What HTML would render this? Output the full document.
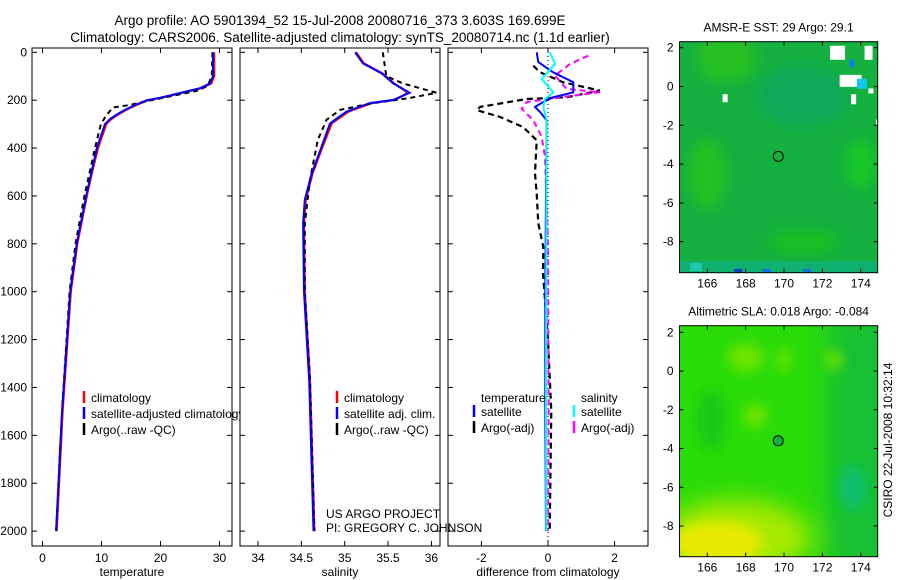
<!DOCTYPE html>
<html><head><meta charset="utf-8"><style>
html,body{margin:0;padding:0;background:#fff}
svg{display:block;font-family:"Liberation Sans",sans-serif}
</style></head><body>
<svg id="c" width="900" height="580" viewBox="0 0 900 580"></svg>
<script>
// ---- data ----
const depthTicks=[0,200,400,600,800,1000,1200,1400,1600,1800,2000];
const tempTicks=[0,10,20,30];
const salTicks=[34,34.5,35,35.5,36];
const salTickLabels=["34","34.5","35","35.5","36"];
const diffTicks=[-2,0,2];
const tClimDepth=[0,100,130,150,170,190,200,220,240,260,280,300,350,400,500,600,800,1000,1500,2000];
const tClimVal=[29.1,29.1,28.6,26.9,23.5,20.1,17.9,15.9,14.2,12.8,11.6,10.8,10.1,9.4,8.4,7.5,5.9,4.8,3.4,2.4];
const tSatVal=[28.9,28.9,28.4,26.7,23.3,19.9,17.7,15.7,14.0,12.6,11.4,10.6,9.9,9.2,8.3,7.4,5.8,4.7,3.3,2.3];
const tArgoDepth=[0,100,140,160,190,210,220,230,260,300,400,500,600,800,1000,1500,2000];
const tArgoVal=[28.8,28.7,28.0,26.3,20.5,16.5,14.8,12.0,10.9,9.9,8.9,8.0,7.1,5.6,4.6,3.3,2.3];
const sDepth=[0,46,89,130,169,199,212,248,297,408,505,616,714,1000,1370,2000];
const sClimVal=[35.13,35.22,35.44,35.57,35.73,35.58,35.31,35.04,34.85,34.73,34.63,34.55,34.53,34.54,34.60,34.65];
const sSatVal=[35.12,35.21,35.43,35.56,35.75,35.56,35.29,35.02,34.83,34.72,34.62,34.54,34.52,34.53,34.59,34.64];
const sArgoDepth=[0,100,130,169,191,212,240,282,366,532,715,1000,1370,2000];
const sArgoVal=[35.44,35.48,35.67,36.06,35.75,35.33,34.95,34.79,34.69,34.60,34.54,34.54,34.60,34.65];
const dTSatDepth=[0,41,83,125,167,188,208,228,249,284,600,1000,1500,2000];
const dTSatVal=[-0.34,-0.29,0.15,0.76,0.76,0.15,-0.15,-0.39,-0.24,-0.04,-0.06,-0.08,-0.08,-0.06];
const dTArgoDepth=[56,83,125,160,188,195,228,242,270,312,367,506,590,715,813,924,1200,1500,2000];
const dTArgoVal=[-0.44,-0.24,0.45,1.56,0.56,-0.64,-2.04,-2.14,-1.44,-0.75,-0.34,-0.39,-0.34,-0.29,-0.14,-0.15,0.0,0.1,0.05];
const dSSatDepth=[0,49,111,167,195,229,284,800,1500,2000];
const dSSatVal=[0.06,0.21,-0.19,0.16,-0.09,-0.14,-0.04,-0.05,-0.06,-0.05];
const dSArgoDepth=[14,49,97,153,167,188,208,236,284,353,436,800,1500,2000];
const dSArgoVal=[1.21,0.66,0.21,0.56,1.56,0.36,-0.64,-0.79,-0.44,-0.19,-0.09,0.0,0.02,0.0];
const lonTicks=[166,168,170,172,174];
const latTicks=[2,0,-2,-4,-6,-8];
const argoLon=169.7, argoLat=-3.6;

const NS="http://www.w3.org/2000/svg";
const svg=document.getElementById('c');
function el(tag,attrs,parent,name,inter){const e=document.createElementNS(NS,tag);for(const k in attrs)e.setAttribute(k,attrs[k]);


(parent||svg).appendChild(e);return e;}
function txt(x,y,s,attrs,name,parent){const t=el('text',Object.assign({x:x,y:y,'font-size':12,fill:'#000'},attrs||{}),parent,name);t.textContent=s;return t;}

const yD=d=>52.3+d*0.2394;
const pTop=48,pBot=546;
function panel(x0,x1,xf,ticks,labels,xlabel,name,ylabels){
  const g=el('g',{},svg,name);
  el('rect',{x:x0,y:pTop,width:x1-x0,height:pBot-pTop,fill:'#fff',stroke:'none'},g,name+'-bg');
  ticks.forEach((t,i)=>{const x=xf(t);
    el('line',{x1:x,x2:x,y1:pBot,y2:pBot-5,stroke:'#000'},g,'x-tick');
    el('line',{x1:x,x2:x,y1:pTop,y2:pTop+5,stroke:'#000'},g,'x-tick');
    txt(x,562,labels[i],{'text-anchor':'middle'},'x-tick-label',g);});
  depthTicks.forEach(d=>{const y=yD(d);
    el('line',{x1:x0,x2:x0+5,y1:y,y2:y,stroke:'#000'},g,'y-tick');
    el('line',{x1:x1,x2:x1-5,y1:y,y2:y,stroke:'#000'},g,'y-tick');
    if(ylabels)txt(x0-5,y+4,String(d),{'text-anchor':'end'},'y-tick-label',g);});
  txt((x0+x1)/2,576,xlabel,{'text-anchor':'middle'},name+'-x-axis-title',g);
  return g;
}
function line(xf,depths,vals,color,dash,w,name){
  const p=depths.map((d,i)=>xf(vals[i]).toFixed(1)+','+yD(d).toFixed(1)).join(' ');
  const a={points:p,fill:'none',stroke:color,'stroke-width':w||2};
  if(dash)a['stroke-dasharray']=dash;
  el('polyline',a,svg,name);
}
function frame(x0,x1){el('rect',{x:x0,y:pTop,width:x1-x0,height:pBot-pTop,fill:'none',stroke:'#000'},svg,'axes-box');}
function legend(x,y0,items){items.forEach((it,i)=>{const y=y0+i*16;
  el('line',{x1:x,x2:x,y1:y-9,y2:y+3,stroke:it[0],'stroke-width':2.5},svg,'legend-swatch');
  txt(x+7,y+2,it[1],{},'legend-entry');});}

txt(340,25,"Argo profile: AO 5901394_52 15-Jul-2008 20080716_373 3.603S 169.699E",{'text-anchor':'middle','font-size':13.5},'title-line-1');
txt(340,42,"Climatology: CARS2006. Satellite-adjusted climatology: synTS_20080714.nc (1.1d earlier)",{'text-anchor':'middle','font-size':13.5},'title-line-2');

const xT=t=>42.5+t*5.9;
panel(32,232,xT,tempTicks,tempTicks.map(String),'temperature','temperature-panel',true);
line(xT,tClimDepth,tClimVal,'#f00',null,2.2,'temperature-climatology-line');
line(xT,tArgoDepth,tArgoVal,'#000','5,4',2,'temperature-argo-line');
line(xT,tClimDepth,tSatVal,'#00f',null,2,'temperature-satellite-line');
legend(84,400,[['#f00','climatology'],['#00f','satellite-adjusted climatology'],['#000','Argo(..raw -QC)']]);
frame(32,232);

const xS=s=>258+(s-34)*86.7;
panel(240,440,xS,salTicks,salTickLabels,'salinity','salinity-panel',false);
line(xS,sDepth,sClimVal,'#f00',null,2.2,'salinity-climatology-line');
line(xS,sArgoDepth,sArgoVal,'#000','5,4',2,'salinity-argo-line');
line(xS,sDepth,sSatVal,'#00f',null,2,'salinity-satellite-line');
legend(337,400,[['#f00','climatology'],['#00f','satellite adj. clim.'],['#000','Argo(..raw -QC)']]);
frame(240,440);

const xDf=d=>548+d*33.3;
panel(448,648,xDf,diffTicks,diffTicks.map(String),'difference from climatology','difference-panel',false);
el('line',{x1:548,x2:548,y1:pTop,y2:pBot,stroke:'#000','stroke-dasharray':'1,3'},svg,'zero-line');
line(xDf,dTArgoDepth,dTArgoVal,'#000','6,4',2.2,'temperature-argo-diff-line');
line(xDf,dSArgoDepth,dSArgoVal,'#f0f','6,4',2,'salinity-argo-diff-line');
line(xDf,dTSatDepth,dTSatVal,'#00f',null,2,'temperature-satellite-diff-line');
line(xDf,dSSatDepth,dSSatVal,'#0ff',null,2,'salinity-satellite-diff-line');
txt(481,402,'temperature',{},'legend-title-temperature');
txt(581,402,'salinity',{},'legend-title-salinity');
legend(474,414,[['#00f','satellite'],['#000','Argo(-adj)']]);
legend(574,414,[['#0ff','satellite'],['#f0f','Argo(-adj)']]);
frame(448,648);
txt(326,518,'US ARGO PROJECT',{},'project-label');
txt(326,532,'PI: GREGORY C. JOHNSON',{},'pi-label');

function map(x0,y0,x1,y1,lat2y,title,name,draw){
  const g=el('g',{},svg,name);
  const cid=name+'-clip';
  const cp=el('clipPath',{id:cid},g,'clip');
  el('rect',{x:x0,y:y0,width:x1-x0,height:y1-y0},cp,'clip-rect');
  const inner=el('g',{'clip-path':'url(#'+cid+')'},g,name+'-image');
  const lx=lon=>707.3+(lon-166)*19.18;
  draw(inner,lx,lat2y);
  el('circle',{cx:lx(argoLon),cy:lat2y(argoLat),r:5,fill:'none',stroke:'#000'},g,'argo-location-marker');
  el('rect',{x:x0,y:y0,width:x1-x0,height:y1-y0,fill:'none',stroke:'#000'},g,'map-frame');
  lonTicks.forEach(l=>{const x=lx(l);
    el('line',{x1:x,x2:x,y1:y1,y2:y1-4,stroke:'#000'},g,'lon-tick');
    el('line',{x1:x,x2:x,y1:y0,y2:y0+4,stroke:'#000'},g,'lon-tick');
    txt(x,y1+15,String(l),{'text-anchor':'middle'},'lon-tick-label',g);});
  latTicks.forEach(l=>{const y=lat2y(l);
    el('line',{x1:x0,x2:x0+4,y1:y,y2:y,stroke:'#000'},g,'lat-tick');
    el('line',{x1:x1,x2:x1-4,y1:y,y2:y,stroke:'#000'},g,'lat-tick');
    txt(x0-6,y+4,String(l),{'text-anchor':'end'},'lat-tick-label',g);});
  txt((x0+x1)/2,y0-10,title,{'text-anchor':'middle'},name+'-title',g);
}
const defs=el('defs',{},svg,'defs');
const blurF=el('filter',{id:'bl',x:'-50%',y:'-50%',width:'200%',height:'200%'},defs,'blur-filter');
el('feGaussianBlur',{stdDeviation:6},blurF,'blur');
const blurG=el('filter',{id:'bl2',x:'-50%',y:'-50%',width:'200%',height:'200%'},defs,'blur-filter-wide');
el('feGaussianBlur',{stdDeviation:12},blurG,'blur');
map(679.5,41.7,877.7,272.7,lat=>47.7+(2-lat)*19.4,'AMSR-E SST: 29  Argo: 29.1','sst-map',(g,lx,ly)=>{
  el('rect',{x:679,y:41,width:200,height:232,fill:'#14b040'},g,'sst-base');
  const bg=el('g',{filter:'url(#bl)'},g,'sst-patches');
  el('ellipse',{cx:lx(171),cy:ly(-0.5),rx:45,ry:30,fill:'#10a858'},bg,'sst-cool-patch');
  el('ellipse',{cx:lx(167),cy:ly(1.5),rx:30,ry:25,fill:'#28c020'},bg,'sst-warm-patch');
  el('ellipse',{cx:lx(166),cy:ly(-4.5),rx:20,ry:35,fill:'#20c020'},bg,'sst-warm-patch');
  el('ellipse',{cx:lx(171),cy:ly(-8),rx:35,ry:12,fill:'#18c020'},bg,'sst-warm-patch');
  el('ellipse',{cx:lx(174),cy:ly(-4),rx:15,ry:25,fill:'#18c828'},bg,'sst-warm-patch');
  el('rect',{x:679,y:ly(-9.0),width:200,height:20,fill:'#10b070'},g,'sst-bottom');
  el('rect',{x:lx(167.4),y:ly(-9.4),width:8,height:8,fill:'#0840c0'},g,'sst-cold-cell');
  el('rect',{x:lx(168.9),y:ly(-9.4),width:8,height:8,fill:'#1070e0'},g,'sst-cold-cell');
  el('rect',{x:lx(171),y:ly(-9.4),width:8,height:8,fill:'#1070e0'},g,'sst-cold-cell');
  el('rect',{x:lx(165.1),y:ly(-9.1),width:12,height:8,fill:'#20c8b0'},g,'sst-cool-cell');
  el('rect',{x:lx(172.4),y:ly(2.1),width:15,height:14,fill:'#fff'},g,'land-mask');
  el('rect',{x:lx(174.2),y:ly(2.1),width:8,height:14,fill:'#fff'},g,'land-mask');
  el('rect',{x:lx(172.9),y:ly(0.6),width:22,height:12,fill:'#fff'},g,'land-mask');
  el('rect',{x:lx(173.8),y:ly(0.4),width:10,height:10,fill:'#10c8f0'},g,'sst-cyan-cell');
  el('rect',{x:lx(173.4),y:ly(1.4),width:5,height:8,fill:'#1080e0'},g,'sst-blue-cell');
  el('rect',{x:lx(173.5),y:ly(-0.4),width:5,height:10,fill:'#fff'},g,'land-mask');
  el('rect',{x:lx(174.4),y:ly(-0.1),width:5,height:5,fill:'#fff'},g,'land-mask');
  el('rect',{x:lx(166.8),y:ly(-0.4),width:5,height:8,fill:'#fff'},g,'land-mask');
  el('rect',{x:876,y:ly(-1.7),width:2,height:5,fill:'#fff'},g,'land-mask');
});
map(679.5,325.7,877.7,556.7,lat=>332.3+(2-lat)*19.37,'Altimetric SLA: 0.018  Argo: -0.084','sla-map',(g,lx,ly)=>{
  el('rect',{x:679,y:325,width:200,height:232,fill:'#28dc08'},g,'sla-base');
  const bw=el('g',{filter:'url(#bl2)'},g,'sla-broad-patches');
  el('rect',{x:lx(172.3),y:ly(3),width:70,height:260,fill:'#14c030'},bw,'sla-low-region');
  el('ellipse',{cx:lx(167.5),cy:ly(-8.6),rx:75,ry:38,fill:'#a8ea00'},bw,'sla-high-region');
  const bg=el('g',{filter:'url(#bl)'},g,'sla-patches');
  el('ellipse',{cx:lx(173.6),cy:ly(-6),rx:14,ry:22,fill:'#10c070'},bg,'sla-low-center');
  el('ellipse',{cx:lx(166.5),cy:ly(-8.9),rx:45,ry:22,fill:'#e8ea00'},bg,'sla-high-center');
  el('ellipse',{cx:lx(168),cy:ly(0.7),rx:18,ry:14,fill:'#70e400'},bg,'sla-high-patch');
  el('ellipse',{cx:lx(168.5),cy:ly(-2.3),rx:12,ry:12,fill:'#70e400'},bg,'sla-high-patch');
  el('ellipse',{cx:lx(170),cy:ly(0.6),rx:6,ry:12,fill:'#70e400'},bg,'sla-high-patch');
  el('ellipse',{cx:lx(172.6),cy:ly(0.6),rx:8,ry:10,fill:'#70e400'},bg,'sla-high-patch');
  el('ellipse',{cx:lx(166.2),cy:ly(-2.5),rx:14,ry:30,fill:'#18c818'},bg,'sla-low-patch');
  el('circle',{cx:lx(argoLon),cy:ly(argoLat),r:5,fill:'#10b040'},g,'sla-argo-fill');
});
txt(0,0,'CSIRO 22-Jul-2008 10:32:14',{'text-anchor':'middle',transform:'translate(892,440) rotate(-90)'},'credit-label');
</script>
</body></html>
